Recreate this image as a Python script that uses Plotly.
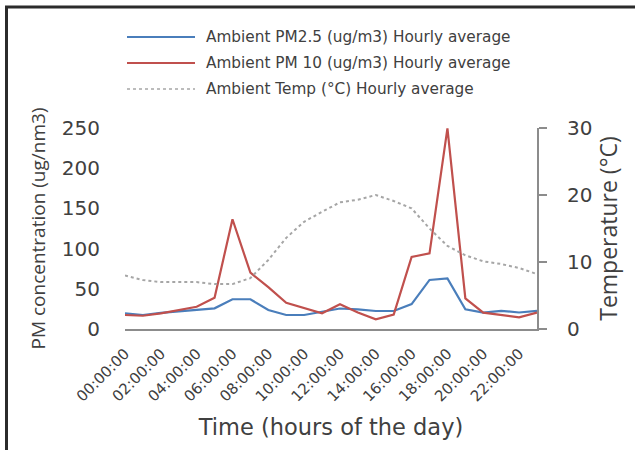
import plotly.graph_objects as go

# Hourly categories and the subset shown as tick labels
hours = ["00:00:00", "01:00:00", "02:00:00", "03:00:00", "04:00:00", "05:00:00",
         "06:00:00", "07:00:00", "08:00:00", "09:00:00", "10:00:00", "11:00:00",
         "12:00:00", "13:00:00", "14:00:00", "15:00:00", "16:00:00", "17:00:00",
         "18:00:00", "19:00:00", "20:00:00", "21:00:00", "22:00:00", "23:00:00"]
tick_hours = ["00:00:00", "02:00:00", "04:00:00", "06:00:00", "08:00:00", "10:00:00",
              "12:00:00", "14:00:00", "16:00:00", "18:00:00", "20:00:00", "22:00:00"]

# Hourly averages
pm25 = [19.5, 17.4, 20.0, 22.0, 23.6, 25.7, 37.0, 37.0, 23.6, 17.4, 17.4, 21.6,
        25.5, 24.4, 22.4, 22.4, 31.0, 61.0, 63.0, 24.4, 20.5, 22.6, 20.5, 22.6]
pm10 = [17.4, 16.5, 19.5, 23.6, 27.7, 39.0, 136.5, 70.0, 52.0, 32.5, 25.7, 19.5,
        30.7, 20.5, 12.0, 18.0, 89.5, 94.0, 249.5, 38.0, 20.3, 17.0, 14.5, 20.3]
temp = [8.0, 7.3, 7.0, 7.0, 7.0, 6.7, 6.7, 7.6, 10.3, 13.6, 16.0, 17.5,
        18.9, 19.3, 20.0, 19.1, 18.0, 15.0, 12.4, 11.0, 10.1, 9.7, 9.1, 8.2]

names = ["Ambient PM2.5 (ug/m3) Hourly average",
         "Ambient PM 10 (ug/m3) Hourly average",
         "Ambient Temp (°C) Hourly average"]
colors = ["#4a7ebb", "#c0504d", "#a6a6a6"]
dashes = ["solid", "solid", "dot"]

W, H = 635, 450
ML, MR, MT, MB = 125, 98, 128, 121
PW, PH = W - ML - MR, H - MT - MB


def px_x(px):
    return (px - ML) / PW


def px_y(py):
    return (H - MB - py) / PH


FONT = "Open Sans"
WIDE = "DejaVu Sans"
TXT = "#404040"

fig = go.Figure()
fig.add_trace(go.Scatter(x=hours, y=pm25, mode="lines", name=names[0],
                         line=dict(color=colors[0], width=2.2), yaxis="y"))
fig.add_trace(go.Scatter(x=hours, y=pm10, mode="lines", name=names[1],
                         line=dict(color=colors[1], width=2.2), yaxis="y"))
fig.add_trace(go.Scatter(x=hours, y=temp, mode="lines", name=names[2],
                         line=dict(color=colors[2], width=2, dash=dashes[2]), yaxis="y2"))

# Legend drawn as line samples plus labels above the plot
shapes = []
annotations = []
rows_px = [37, 63, 89]
for i, name in enumerate(names):
    yy = px_y(rows_px[i])
    shapes.append(dict(type="line", xref="paper", yref="paper",
                       x0=px_x(127), x1=px_x(195), y0=yy, y1=yy,
                       line=dict(color=colors[i], width=2 if i < 2 else 1.5, dash=dashes[i])))
    annotations.append(dict(text=name, xref="paper", yref="paper",
                            x=px_x(204), y=yy, xanchor="left", yanchor="middle",
                            showarrow=False, font=dict(family=WIDE, size=15.3, color=TXT)))

# Outer frame
shapes.append(dict(type="rect", xref="paper", yref="paper",
                   x0=px_x(6.5), x1=px_x(660), y0=px_y(7), y1=px_y(470),
                   line=dict(color="#2b2b2b", width=3), layer="above"))

fig.update_layout(
    width=W, height=H,
    margin=dict(l=ML, r=MR, t=MT, b=MB),
    paper_bgcolor="white", plot_bgcolor="white",
    showlegend=False,
    font=dict(family=FONT, color=TXT),
    xaxis=dict(
        type="category", categoryorder="array", categoryarray=hours,
        tickmode="array", tickvals=tick_hours, ticktext=tick_hours,
        tickangle=-45, tickfont=dict(family=WIDE, size=15, color=TXT),
        ticks="", ticklabelstandoff=8,
        showline=True, linecolor="#8c8c8c", linewidth=2,
        showgrid=False, zeroline=False,
        title=dict(text="Time (hours of the day)", font=dict(family=WIDE, size=22.5, color=TXT),
                   standoff=15),
    ),
    yaxis=dict(
        range=[0, 250], dtick=50, tickfont=dict(family=WIDE, size=20, color=TXT),
        showline=False, showgrid=False, zeroline=False,
        ticks="", ticklabelstandoff=24,
        title=dict(text="PM concentration (ug/nm3)", font=dict(size=19, color=TXT), standoff=11),
    ),
    yaxis2=dict(
        range=[0, 30], dtick=10, overlaying="y", side="right",
        tickfont=dict(family=WIDE, size=20, color=TXT),
        showline=True, linecolor="#8c8c8c", linewidth=2,
        ticks="outside", ticklen=8, tickcolor="#8c8c8c", tickwidth=2,
        ticklabelstandoff=16,
        showgrid=False, zeroline=False,
        title=dict(text="Temperature (°C)", font=dict(size=23, color=TXT), standoff=8),
    ),
    shapes=shapes,
    annotations=annotations,
)

fig.write_html("out.html")
